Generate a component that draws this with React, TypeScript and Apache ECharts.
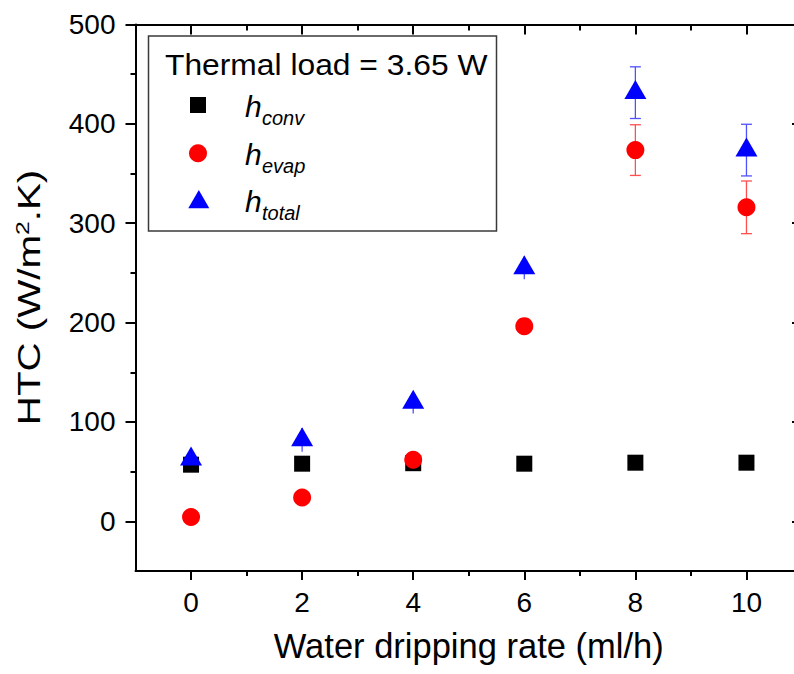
import { useEffect, useRef } from "react";
import * as echarts from "echarts";

// Water dripping rate (ml/h)
const rates = [0, 2, 4, 6, 8, 10];

// Heat transfer coefficients (W/m².K) and their uncertainties
const hConv = [57, 58, 58.5, 58, 59, 59];
const hConvErr = [4, 4, 4, 4, 4, 4];
const hEvap = [4.3, 24, 62, 196.4, 373.6, 316];
const hEvapErr = [3, 3, 4, 5, 25.5, 26.5];
const hTotal = [62.5, 82, 119.6, 255, 431.4, 373.6];
const hTotalErr = [11, 12, 11, 11.5, 26, 26];

// Tick positions
const xMajorTicks = [0, 2, 4, 6, 8, 10];
const xMinorTicks = [1, 3, 5, 7, 9];
const yMajorTicks = [0, 100, 200, 300, 400, 500];
const yMinorTicks = [50, 150, 250, 350, 450];

// Legend entries (subscripts of h)
const legendNames = ["conv", "evap", "total"];

const FONT = '"Liberation Sans", Arial, Helvetica, sans-serif';
const BLACK = "#000";

const errData = (vals: number[], errs: number[]) =>
  rates.map((x, i) => [x, vals[i] - errs[i], vals[i] + errs[i]]);

// Vertical error bars; caps are drawn only for the wider bars
const errorSeries = (name: string, vals: number[], errs: number[], color: string, width: number, capMin: number) => ({
  type: "custom",
  name,
  silent: true,
  data: errData(vals, errs),
  encode: { x: 0, y: [1, 2] },
  renderItem: (_params: any, api: any) => {
    const x = api.value(0);
    const loV = api.value(1);
    const hiV = api.value(2);
    const lo = api.coord([x, loV]);
    const hi = api.coord([x, hiV]);
    const hw = 5.5;
    const style = { stroke: color, lineWidth: width, fill: null };
    const children: any[] = [
      { type: "line", shape: { x1: hi[0], y1: hi[1], x2: lo[0], y2: lo[1] }, style },
    ];
    if ((hiV - loV) / 2 >= capMin) {
      children.push({ type: "line", shape: { x1: hi[0] - hw, y1: hi[1], x2: hi[0] + hw, y2: hi[1] }, style });
      children.push({ type: "line", shape: { x1: lo[0] - hw, y1: lo[1], x2: lo[0] + hw, y2: lo[1] }, style });
    }
    return { type: "group", children };
  },
});

const tickLine = { color: BLACK, width: 2 };

function xAxisDef(position: "top" | "bottom", ticks: number[], inside: boolean, length: number, withLine: boolean, withLabels: boolean) {
  return {
    type: "value",
    position,
    min: -1,
    max: 11,
    splitLine: { show: false },
    minorTick: { show: false },
    axisLine: { show: withLine, onZero: false, lineStyle: { color: BLACK, width: 2 } },
    axisTick: { show: true, inside, length, customValues: ticks, lineStyle: tickLine },
    axisLabel: withLabels
      ? { show: true, customValues: ticks, fontSize: 28, color: BLACK, fontFamily: FONT, margin: 17 }
      : { show: false },
  };
}

function yAxisDef(position: "left" | "right", ticks: number[], inside: boolean, length: number, withLine: boolean, withLabels: boolean) {
  return {
    type: "value",
    position,
    min: -50,
    max: 500,
    splitLine: { show: false },
    minorTick: { show: false },
    axisLine: { show: withLine, onZero: false, lineStyle: { color: BLACK, width: 2 } },
    axisTick: { show: true, inside, length, customValues: ticks, lineStyle: tickLine },
    axisLabel: withLabels
      ? { show: true, customValues: ticks, fontSize: 28, color: BLACK, fontFamily: FONT, margin: 20 }
      : { show: false },
  };
}

export default function App() {
  const ref = useRef<HTMLDivElement>(null);

  useEffect(() => {
    if (!ref.current) return;
    const chart = echarts.init(ref.current, undefined, { renderer: "svg" });

    const bottomMajor: any = xAxisDef("bottom", xMajorTicks, false, 9, true, true);
    bottomMajor.name = "Water dripping rate (ml/h)";
    bottomMajor.nameLocation = "middle";
    bottomMajor.nameGap = 57;
    bottomMajor.nameTextStyle = { fontSize: 34.5, fontFamily: FONT, color: BLACK };

    const leftMajor: any = yAxisDef("left", yMajorTicks, false, 10, true, true);

    const iconX = 198;
    const rowY = [105, 153.3, 200];
    const graphic: any[] = [
      // y-axis title, set in a widened face
      {
        type: "text",
        x: 29.5,
        y: 297.5,
        rotation: Math.PI / 2,
        scaleX: 1.3,
        style: {
          text: "HTC (W/m{sup|2}.K)",
          fontSize: 31,
          fontFamily: FONT,
          fill: BLACK,
          align: "center",
          verticalAlign: "middle",
          lineHeight: 33,
          rich: {
            sup: { fontSize: 19, fontFamily: FONT, fill: BLACK, lineHeight: 19, padding: [0, 0, 13, 0], verticalAlign: "top" },
          },
        },
      },
      {
        type: "rect",
        z: 10,
        shape: { x: 148.5, y: 36, width: 348, height: 195 },
        style: { fill: "#fff", stroke: "#3a3a3a", lineWidth: 1.5 },
      },
      {
        type: "text",
        z: 11,
        x: 165,
        y: 65,
        scaleX: 1.06,
        style: { text: "Thermal load = 3.65 W", fontSize: 30, fontFamily: FONT, fill: BLACK, align: "left", verticalAlign: "middle" },
      },
      {
        type: "rect",
        z: 11,
        shape: { x: iconX - 8, y: rowY[0] - 8, width: 16, height: 16 },
        style: { fill: BLACK },
      },
      {
        type: "circle",
        z: 11,
        shape: { cx: iconX, cy: rowY[1], r: 9 },
        style: { fill: "#ff0000" },
      },
      {
        type: "polygon",
        z: 11,
        shape: { points: [[iconX + 0.8, rowY[2] - 10], [iconX + 11.3, rowY[2] + 8.3], [iconX - 9.7, rowY[2] + 8.3]] },
        style: { fill: "#0000ff" },
      },
    ];
    legendNames.forEach((sub, i) => {
      const baseline = rowY[i] + 11.7;
      graphic.push({
        type: "text",
        z: 11,
        x: 245,
        y: baseline - 0.3465 * 30,
        style: { text: "h", fontSize: 30, fontStyle: "italic", fontFamily: FONT, fill: BLACK, align: "left", verticalAlign: "middle" },
      });
      graphic.push({
        type: "text",
        z: 11,
        x: 262,
        y: baseline + 8.3 - 0.3465 * 20,
        style: { text: sub, fontSize: 20, fontStyle: "italic", fontFamily: FONT, fill: BLACK, align: "left", verticalAlign: "middle" },
      });
    });

    chart.setOption({
      animation: false,
      backgroundColor: "#fff",
      grid: { left: 135.5, top: 24.5, right: 8, bottom: 103, containLabel: false },
      xAxis: [
        bottomMajor,
        xAxisDef("bottom", xMinorTicks, false, 5, false, false),
        xAxisDef("top", xMajorTicks, true, 10, true, false),
        xAxisDef("top", xMinorTicks, true, 6, false, false),
      ],
      yAxis: [
        leftMajor,
        yAxisDef("left", yMinorTicks, false, 5, false, false),
        yAxisDef("right", yMajorTicks, true, 10, true, false),
        yAxisDef("right", yMinorTicks, true, 6, false, false),
      ],
      series: [
        errorSeries("evap error", hEvap, hEvapErr, "#ff5050", 1.3, 20),
        errorSeries("total error", hTotal, hTotalErr, "#5050ff", 1.3, 20),
        {
          type: "scatter",
          name: "h conv",
          symbol: "rect",
          symbolSize: 16,
          itemStyle: { color: BLACK, opacity: 1 },
          data: rates.map((x, i) => [x, hConv[i]]),
        },
        {
          type: "scatter",
          name: "h evap",
          symbol: "circle",
          symbolSize: 18,
          itemStyle: { color: "#ff0000", opacity: 1 },
          data: rates.map((x, i) => [x, hEvap[i]]),
        },
        {
          type: "scatter",
          name: "h total",
          symbol: "triangle",
          symbolSize: [22, 19],
          symbolOffset: [0, -3.2],
          itemStyle: { color: "#0000ff", opacity: 1 },
          data: rates.map((x, i) => [x, hTotal[i]]),
        },
        errorSeries("conv error", hConv, hConvErr, BLACK, 1.2, 0),
      ],
      graphic,
    });

    return () => chart.dispose();
  }, []);

  return (
    <div style={{ position: "fixed", left: 0, top: 0, width: 794, height: 674, overflow: "hidden", background: "#fff" }}>
      <div ref={ref} style={{ width: 810, height: 674 }} />
    </div>
  );
}
